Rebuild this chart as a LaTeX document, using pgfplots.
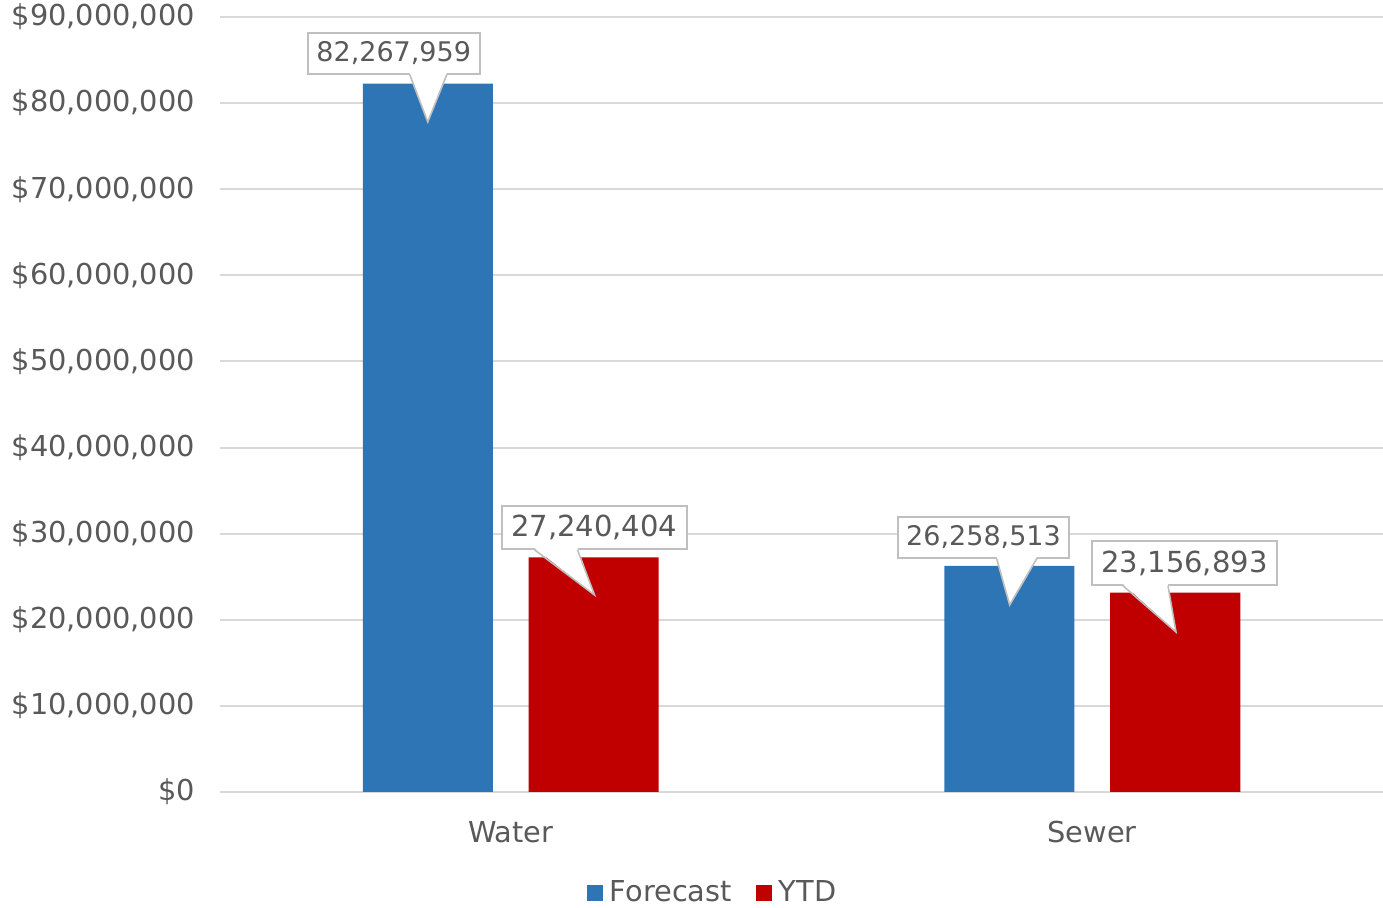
\documentclass[border=0pt]{standalone}
\usepackage{fontspec}
\setmainfont{DejaVu Sans}
\usepackage{pgfplots}
\pgfplotsset{compat=1.18}
\definecolor{fc}{RGB}{46,117,182}
\definecolor{ytd}{RGB}{192,0,0}
\definecolor{txt}{RGB}{89,89,89}
\definecolor{gridc}{RGB}{217,217,217}
\definecolor{cb}{RGB}{191,191,191}
% #1 center coord, #2 tip coord, #3 base left dx, #4 base right dx, #5 width, #6 height, #7 font size, #8 text
\newcommand{\co}[8]{%
\node[draw=cb, line width=0.8pt, fill=white, text=txt, font=\fontsize{#7}{16}\selectfont,
  inner sep=0pt, minimum width=#5, minimum height=#6] (n-#1) at (#1) {#8};
\coordinate (b-#1) at (#2 |- n-#1.south);
\fill[white] ([xshift=#3, yshift=0.9pt]b-#1) -- (#2) -- ([xshift=#4, yshift=0.9pt]b-#1) -- cycle;
\draw[cb, line width=0.8pt, line join=miter] ([xshift=#3]b-#1) -- (#2) -- ([xshift=#4]b-#1);
}
\begin{document}
\begin{tikzpicture}
\begin{axis}[
 width=581.5pt, height=387.5pt, scale only axis,
 xmin=-0.5, xmax=1.5, ymin=0, ymax=90000000,
 clip=false,
 axis line style={draw=none},
 major tick length=0pt,
 ymajorgrids, grid style={gridc, line width=1pt},
 ytick={0,10000000,20000000,30000000,40000000,50000000,60000000,70000000,80000000,90000000},
 scaled y ticks=false,
 /pgf/number format/assume math mode=true,
 yticklabel={\$\pgfmathprintnumber[fixed,precision=0,1000 sep={,}]{\tick}},
 yticklabel style={xshift=-9pt, text=txt, font=\fontsize{14.4}{17}\selectfont},
 xtick={0,1}, xticklabels={Water,Sewer},
 xticklabel style={yshift=-11pt, text=txt, font=\fontsize{14.4}{17}\selectfont},
 legend image code/.code={\fill[#1] (0pt,-4pt) rectangle (8pt,4pt);},
 legend style={draw=none, fill=none, at={(0.4188,0)}, anchor=center, xshift=4pt, yshift=-50.5pt,
   legend columns=-1, font=\fontsize{14.4}{17}\selectfont, text=txt,
   /tikz/every even column/.append style={column sep=8.5pt},
   nodes={inner xsep=3.5pt}},
]
\addplot[ybar, fill=fc, draw=none, bar width=0.2236, bar shift=-0.1427] coordinates {(0,82267959) (1,26258513)};
\addlegendentry{Forecast}
\addplot[ybar, fill=ytd, draw=none, bar width=0.2236, bar shift=0.1427] coordinates {(0,27240404) (1,23156893)};
\addlegendentry{YTD}
\coordinate (bl) at (rel axis cs:0,0);
\coordinate (tr) at (rel axis cs:1,1);
\coordinate (c1) at (axis cs:-0.2012,85760000);
\coordinate (t1) at (axis cs:-0.1427,77810000);
\coordinate (c2) at (axis cs:0.1436,30716000);
\coordinate (t2) at (axis cs:0.1440,22877000);
\coordinate (c3) at (axis cs:0.8130,29555000);
\coordinate (t3) at (axis cs:0.8580,21716000);
\coordinate (c4) at (axis cs:1.1586,26594000);
\coordinate (t4) at (axis cs:1.1440,18580000);
\end{axis}
\co{c1}{t1}{-9pt}{9.5pt}{86pt}{20.5pt}{13.5}{82,267,959}
\co{c2}{t2}{-30pt}{-8.5pt}{92.5pt}{21.5pt}{14.5}{27,240,404}
\co{c3}{t3}{-6.5pt}{13.5pt}{85.5pt}{20.5pt}{13.5}{26,258,513}
\co{c4}{t4}{-26.5pt}{-4pt}{92.5pt}{22pt}{14.5}{23,156,893}
\pgfresetboundingbox
\path ([shift={(-110pt,-58pt)}]bl) rectangle ([shift={(0pt,8.5pt)}]tr);
\end{tikzpicture}
\end{document}
